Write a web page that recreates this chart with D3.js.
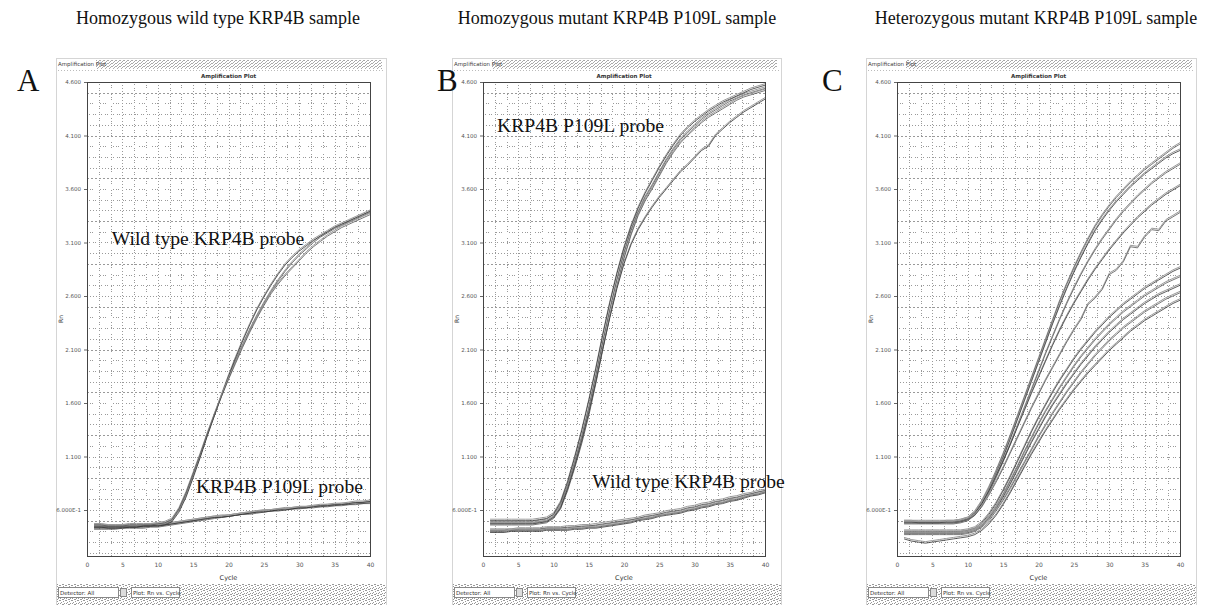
<!DOCTYPE html>
<html><head><meta charset="utf-8">
<script src="https://cdn.jsdelivr.net/npm/d3@7"></script>
<style>body{margin:0;background:#fff}svg{display:block}</style>
</head><body>
<svg id="c" width="1216" height="605"></svg>
<script>
// ---------- data ----------
const cycles = d3.range(1, 41);
const xTickValues = [0,5,10,15,20,25,30,35,40];
const yTickValues = [4.6,4.1,3.6,3.1,2.6,2.1,1.6,1.1,0.6];
const yTickLabels = ["4.600","4.100","3.600","3.100","2.600","2.100","1.600","1.100","6.000E-1"];
const panelTitles = ["Homozygous wild type KRP4B sample","Homozygous mutant KRP4B P109L sample","Heterozygous mutant KRP4B P109L sample"];
const panelLetters = ["A","B","C"];

// Panel A
const aWild1 = [0.45,0.45,0.45,0.45,0.45,0.45,0.45,0.45,0.46,0.46,0.47,0.50,0.60,0.74,0.92,1.10,1.30,1.48,1.66,1.83,1.99,2.14,2.28,2.41,2.53,2.64,2.74,2.83,2.91,2.98,3.04,3.10,3.15,3.19,3.23,3.26,3.29,3.32,3.35,3.38];
const aWild2 = [0.44,0.44,0.44,0.44,0.44,0.44,0.44,0.45,0.45,0.45,0.46,0.49,0.58,0.72,0.90,1.09,1.29,1.48,1.67,1.85,2.02,2.18,2.33,2.47,2.59,2.70,2.80,2.89,2.96,3.02,3.07,3.12,3.16,3.20,3.24,3.27,3.30,3.33,3.36,3.39];
const aWild3 = [0.46,0.46,0.45,0.45,0.45,0.46,0.46,0.46,0.46,0.47,0.48,0.51,0.61,0.76,0.94,1.12,1.31,1.49,1.66,1.82,1.97,2.12,2.26,2.39,2.51,2.62,2.71,2.79,2.86,2.93,3.00,3.06,3.11,3.16,3.20,3.24,3.27,3.30,3.33,3.36];
const aMut1 = [0.43,0.43,0.43,0.43,0.44,0.44,0.44,0.44,0.45,0.45,0.46,0.47,0.48,0.49,0.50,0.51,0.52,0.53,0.54,0.54,0.55,0.56,0.57,0.58,0.59,0.59,0.60,0.61,0.61,0.62,0.62,0.63,0.63,0.64,0.64,0.65,0.65,0.66,0.66,0.67];
const aMut2 = [0.42,0.42,0.42,0.42,0.43,0.43,0.43,0.43,0.44,0.44,0.45,0.46,0.47,0.48,0.49,0.50,0.51,0.52,0.53,0.54,0.55,0.56,0.56,0.57,0.58,0.59,0.59,0.60,0.61,0.61,0.62,0.62,0.63,0.63,0.64,0.64,0.65,0.65,0.66,0.66];
const aMut3 = [0.44,0.44,0.43,0.43,0.43,0.44,0.44,0.45,0.45,0.46,0.46,0.47,0.48,0.49,0.50,0.51,0.52,0.53,0.53,0.54,0.55,0.56,0.57,0.58,0.58,0.59,0.60,0.60,0.61,0.62,0.62,0.63,0.64,0.64,0.65,0.65,0.66,0.67,0.67,0.68];

// Panel B
const bMut1 = [0.48,0.48,0.48,0.48,0.48,0.48,0.48,0.49,0.50,0.54,0.64,0.82,1.04,1.28,1.55,1.85,2.17,2.47,2.75,3.00,3.21,3.38,3.52,3.63,3.75,3.87,3.97,4.06,4.13,4.19,4.25,4.30,4.34,4.38,4.42,4.45,4.48,4.50,4.52,4.54];
const bMut2 = [0.50,0.50,0.50,0.50,0.50,0.50,0.50,0.51,0.52,0.56,0.67,0.86,1.09,1.34,1.62,1.92,2.24,2.54,2.81,3.05,3.25,3.42,3.56,3.68,3.80,3.91,4.01,4.10,4.17,4.23,4.28,4.33,4.37,4.41,4.44,4.47,4.50,4.53,4.55,4.57];
const bMut3 = [0.46,0.46,0.46,0.46,0.46,0.46,0.46,0.47,0.48,0.52,0.61,0.78,0.99,1.22,1.48,1.78,2.10,2.41,2.69,2.95,3.17,3.35,3.49,3.60,3.72,3.84,3.94,4.03,4.10,4.16,4.22,4.27,4.31,4.35,4.39,4.43,4.46,4.48,4.50,4.52];
const bMut4 = [0.47,0.47,0.47,0.47,0.47,0.47,0.47,0.48,0.49,0.53,0.62,0.80,1.01,1.25,1.51,1.80,2.11,2.40,2.67,2.90,3.08,3.22,3.33,3.43,3.52,3.60,3.68,3.76,3.82,3.89,3.96,4.00,4.10,4.16,4.22,4.27,4.32,4.36,4.40,4.44];
const bWild1 = [0.40,0.40,0.40,0.41,0.41,0.41,0.41,0.41,0.42,0.42,0.42,0.42,0.43,0.43,0.44,0.44,0.45,0.46,0.47,0.48,0.49,0.51,0.52,0.53,0.55,0.56,0.57,0.58,0.60,0.61,0.63,0.64,0.66,0.67,0.69,0.70,0.72,0.74,0.75,0.77];
const bWild2 = [0.41,0.41,0.41,0.41,0.42,0.42,0.42,0.42,0.43,0.43,0.43,0.44,0.44,0.45,0.45,0.46,0.47,0.48,0.49,0.50,0.51,0.52,0.54,0.55,0.56,0.58,0.59,0.60,0.62,0.63,0.65,0.66,0.68,0.69,0.71,0.72,0.74,0.75,0.77,0.78];
const bWild3 = [0.39,0.39,0.39,0.40,0.40,0.40,0.40,0.40,0.41,0.41,0.41,0.41,0.42,0.42,0.43,0.43,0.44,0.45,0.46,0.47,0.48,0.50,0.51,0.52,0.54,0.55,0.56,0.57,0.59,0.60,0.62,0.63,0.65,0.66,0.68,0.69,0.71,0.73,0.74,0.76];

// Panel C
const cHigh1 = [0.49,0.49,0.49,0.49,0.49,0.49,0.49,0.49,0.50,0.52,0.58,0.68,0.81,0.96,1.12,1.29,1.47,1.65,1.83,2.01,2.19,2.37,2.55,2.71,2.86,3.00,3.13,3.25,3.35,3.44,3.52,3.59,3.66,3.72,3.78,3.83,3.88,3.93,3.98,4.02];
const cHigh2 = [0.48,0.48,0.48,0.48,0.48,0.48,0.48,0.48,0.49,0.51,0.56,0.66,0.79,0.94,1.09,1.26,1.44,1.62,1.80,1.98,2.16,2.34,2.51,2.67,2.82,2.96,3.09,3.21,3.31,3.40,3.48,3.55,3.62,3.68,3.74,3.79,3.84,3.89,3.93,3.96];
const cHigh3 = [0.47,0.47,0.47,0.47,0.47,0.47,0.47,0.47,0.48,0.50,0.55,0.64,0.76,0.90,1.05,1.21,1.38,1.55,1.72,1.89,2.06,2.22,2.38,2.53,2.67,2.80,2.92,3.03,3.13,3.22,3.31,3.39,3.46,3.53,3.59,3.65,3.70,3.75,3.79,3.83];
const cHigh4 = [0.49,0.49,0.48,0.48,0.48,0.48,0.49,0.49,0.50,0.52,0.57,0.66,0.78,0.92,1.06,1.21,1.37,1.53,1.69,1.84,1.99,2.14,2.28,2.41,2.53,2.64,2.75,2.85,2.94,3.03,3.11,3.19,3.26,3.33,3.39,3.45,3.50,3.55,3.59,3.63];
const cHigh5 = [0.48,0.48,0.48,0.48,0.48,0.48,0.48,0.48,0.49,0.51,0.55,0.63,0.74,0.86,0.99,1.13,1.27,1.41,1.55,1.68,1.81,1.93,2.05,2.17,2.28,2.38,2.52,2.58,2.66,2.80,2.84,2.92,3.06,3.05,3.15,3.22,3.21,3.30,3.34,3.38];
const cLow1 = [0.40,0.40,0.40,0.40,0.40,0.40,0.40,0.40,0.40,0.41,0.43,0.48,0.56,0.66,0.78,0.91,1.05,1.19,1.33,1.46,1.58,1.70,1.81,1.91,2.01,2.10,2.18,2.26,2.33,2.40,2.46,2.52,2.57,2.62,2.67,2.71,2.75,2.79,2.83,2.86];
const cLow2 = [0.39,0.39,0.39,0.39,0.39,0.39,0.39,0.39,0.39,0.40,0.42,0.46,0.53,0.63,0.74,0.87,1.00,1.14,1.27,1.40,1.52,1.63,1.74,1.84,1.94,2.03,2.11,2.19,2.26,2.33,2.39,2.45,2.50,2.55,2.60,2.64,2.68,2.72,2.75,2.78];
const cLow3 = [0.38,0.38,0.38,0.38,0.38,0.38,0.38,0.38,0.38,0.39,0.41,0.45,0.52,0.61,0.72,0.84,0.97,1.10,1.23,1.35,1.47,1.58,1.68,1.78,1.87,1.96,2.04,2.12,2.19,2.26,2.32,2.38,2.43,2.48,2.53,2.57,2.61,2.64,2.67,2.70];
const cLow4 = [0.37,0.37,0.37,0.37,0.37,0.37,0.37,0.37,0.37,0.38,0.40,0.44,0.50,0.59,0.69,0.80,0.92,1.04,1.16,1.28,1.39,1.50,1.60,1.70,1.79,1.88,1.96,2.04,2.11,2.18,2.24,2.30,2.35,2.40,2.45,2.49,2.53,2.57,2.60,2.63];
const cLow5 = [0.33,0.31,0.30,0.29,0.30,0.31,0.32,0.33,0.34,0.35,0.37,0.41,0.47,0.55,0.65,0.76,0.88,1.00,1.12,1.23,1.34,1.44,1.54,1.63,1.72,1.80,1.88,1.95,2.02,2.09,2.15,2.21,2.27,2.32,2.37,2.41,2.45,2.49,2.53,2.56];

const probeLabels = [
  [{text:"Wild type KRP4B probe", cycle:3.5, rn:3.08},{text:"KRP4B P109L probe", cycle:15.4, rn:0.76}],
  [{text:"KRP4B P109L probe", cycle:2.0, rn:4.13},{text:"Wild type KRP4B probe", cycle:15.5, rn:0.81}],
  []
];

// ---------- layout ----------
const layout = [
  {left:87,  right:370, titleX:218, letterX:17},
  {left:483, right:765, titleX:617, letterX:437},
  {left:897, right:1180, titleX:1036, letterX:822}
];
const seriesByPanel = [
  [aMut1,aMut2,aMut3,aWild1,aWild2,aWild3],
  [bWild1,bWild2,bWild3,bMut1,bMut2,bMut3,bMut4],
  [cLow1,cLow2,cLow3,cLow4,cLow5,cHigh1,cHigh2,cHigh3,cHigh4,cHigh5]
];
const TOP = 82, BOTTOM = 556;

const svg = d3.select("#c");
const defs = svg.append("defs");
const pat = defs.append("pattern").attr("id","stip").attr("width",6).attr("height",5).attr("patternUnits","userSpaceOnUse");
pat.append("rect").attr("width",6).attr("height",5).attr("fill","#fff");
[[0,0],[3,1],[1,2],[4,3],[2,4],[5,0],[0,3],[3,4]].forEach(p=>pat.append("rect").attr("x",p[0]).attr("y",p[1]).attr("width",1).attr("height",1).attr("fill","#999"));
const pat2 = defs.append("pattern").attr("id","bar").attr("width",4).attr("height",3).attr("patternUnits","userSpaceOnUse");
pat2.append("rect").attr("width",4).attr("height",3).attr("fill","#fff");
[[0,0],[2,1],[1,2],[3,0]].forEach(p=>pat2.append("rect").attr("x",p[0]).attr("y",p[1]).attr("width",1).attr("height",1).attr("fill","#aaa"));

const serif = "'Liberation Serif','Times New Roman',serif";
const sans = "'DejaVu Sans',Arial,sans-serif";

layout.forEach((L, pi) => {
  const g = svg.append("g");
  const x = d3.scaleLinear().domain([0,40]).range([L.left, L.right]);
  const y = d3.scaleLinear().domain([0.6,4.6]).range([510, 82]);
  const wl = L.left - 31, wr = L.right + 16;

  // top title & letter
  svg.append("text").attr("x", L.titleX).attr("y", 24).attr("text-anchor","middle")
    .attr("font-family", serif).attr("font-size", 18).attr("fill","#111").text(panelTitles[pi]);
  svg.append("text").attr("x", L.letterX).attr("y", 91)
    .attr("font-family", serif).attr("font-size", 31).attr("fill","#111").text(panelLetters[pi]);

  // window frame
  g.append("rect").attr("x", wl+0.5).attr("y", 58.5).attr("width", wr-wl).attr("height", 560)
    .attr("fill","#fff").attr("stroke","#aaa").attr("stroke-dasharray","1,1");
  // title bar
  g.append("rect").attr("x", wl+40).attr("y", 60).attr("width", wr-wl-44).attr("height", 9).attr("fill","url(#bar)");
  g.append("text").attr("x", wl+2).attr("y", 66).attr("font-family", sans).attr("font-size", 5.5).attr("fill","#444").text("Amplification Plot");
  g.append("line").attr("x1", wl+2).attr("x2", wr-2).attr("y1", 70.5).attr("y2", 70.5).attr("stroke","#bbb").attr("stroke-dasharray","1,2");
  g.append("text").attr("x", (L.left+L.right)/2).attr("y", 78).attr("text-anchor","middle")
    .attr("font-family", sans).attr("font-size", 5.5).attr("font-weight","bold").attr("fill","#333").text("Amplification Plot");

  // grid
  const vGrid = d3.range(0, 40.001, 5/3);
  g.selectAll(".vg").data(vGrid).join("line")
    .attr("x1", d => Math.round(x(d))+0.5).attr("x2", d => Math.round(x(d))+0.5)
    .attr("y1", TOP).attr("y2", BOTTOM)
    .attr("stroke","#999").attr("stroke-width",1)
    .attr("stroke-dasharray", (d,i) => ["1,2","1,1,1,3","1,2,1,1,1,6"][i%3]);
  const hGrid = d3.range(2, 47).map(k => k/10);
  g.selectAll(".hg").data(hGrid).join("line")
    .attr("x1", L.left).attr("x2", L.right)
    .attr("y1", d => Math.round(y(d))+0.5).attr("y2", d => Math.round(y(d))+0.5)
    .attr("stroke","#999").attr("stroke-width",1)
    .attr("stroke-dasharray", (d,i) => ["1,2","1,1,1,3","1,2,1,1,1,7","2,2"][i%4]);

  // border
  g.append("rect").attr("x", L.left+0.5).attr("y", TOP+0.5).attr("width", L.right-L.left).attr("height", BOTTOM-TOP)
    .attr("fill","none").attr("stroke","#444").attr("stroke-width",1);

  // axes
  const yAxis = d3.axisLeft(y).tickValues(yTickValues).tickFormat((d,i)=>yTickLabels[i]).tickSize(3);
  const ya = g.append("g").attr("transform",`translate(${L.left},0)`).call(yAxis);
  ya.select(".domain").remove();
  ya.selectAll("line").attr("stroke","#666");
  ya.selectAll("text").attr("font-family", sans).attr("font-size", 5.5).attr("fill","#555");
  const xAxis = d3.axisBottom(x).tickValues(xTickValues).tickSize(0).tickPadding(7);
  const xa = g.append("g").attr("transform",`translate(0,${BOTTOM})`).call(xAxis);
  xa.select(".domain").remove();
  xa.selectAll("text").attr("font-family", sans).attr("font-size", 6).attr("fill","#555");

  g.append("text").attr("transform",`translate(${wl+7},${(TOP+BOTTOM)/2}) rotate(-90)`).attr("text-anchor","middle")
    .attr("font-family", sans).attr("font-size", 6).attr("fill","#444").text("Rn");
  g.append("text").attr("x",(L.left+L.right)/2).attr("y",580).attr("text-anchor","middle")
    .attr("font-family", sans).attr("font-size", 6.5).attr("fill","#333").text("Cycle");

  // bottom bar
  g.append("rect").attr("x", wl+1).attr("y", 584).attr("width", wr-wl-1).attr("height", 21).attr("fill","url(#stip)");
  g.append("rect").attr("x", wl+2.5).attr("y", 587.5).attr("width", 60).attr("height", 10).attr("fill","#fff").attr("stroke","#888");
  g.append("text").attr("x", wl+4).attr("y", 595).attr("font-family", sans).attr("font-size", 5.5).attr("fill","#333").text("Detector: All");
  g.append("rect").attr("x", wl+64.5).attr("y", 588.5).attr("width", 6).attr("height", 8).attr("fill","#ddd").attr("stroke","#888");
  g.append("rect").attr("x", wl+75.5).attr("y", 587.5).attr("width", 48).attr("height", 10).attr("fill","#fff").attr("stroke","#888");
  g.append("text").attr("x", wl+77).attr("y", 595).attr("font-family", sans).attr("font-size", 5.5).attr("fill","#333").text("Plot: Rn vs. Cycle");

  // curves
  const clipId = "clip"+pi;
  defs.append("clipPath").attr("id", clipId).append("rect").attr("x", L.left).attr("y", TOP).attr("width", L.right-L.left).attr("height", BOTTOM-TOP);
  const line = d3.line().x((d,i)=>x(cycles[i])).y(d=>y(d));
  const cg = g.append("g").attr("clip-path",`url(#${clipId})`);
  seriesByPanel[pi].forEach((s, si) => {
    cg.append("path").attr("d", line(s)).attr("fill","none")
      .attr("stroke", "#9a9a9a").attr("stroke-width", 1)
      .attr("transform", "translate(0,-1.5)");
    cg.append("path").attr("d", line(s)).attr("fill","none")
      .attr("stroke", si%2 ? "#555" : "#333").attr("stroke-width", 0.8);
  });

  // probe labels
  probeLabels[pi].forEach(p => {
    g.append("text").attr("x", x(p.cycle)).attr("y", y(p.rn))
      .attr("font-family", serif).attr("font-size", 19.6).attr("fill","#111").text(p.text);
  });
});
</script>
</body></html>
